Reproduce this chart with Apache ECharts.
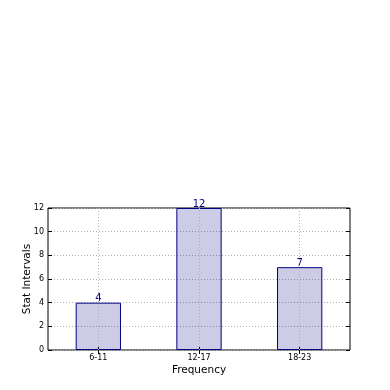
<!DOCTYPE html>
<html><head><meta charset="utf-8">
<script src="https://cdn.jsdelivr.net/npm/echarts@6/dist/echarts.min.js"></script>
<style>html,body{margin:0;padding:0;background:#fff}#c{width:390px;height:390px}</style>
</head><body><div id="c"></div>
<script>
var categories = ['6-11', '12-17', '18-23'];
var values = [4, 12, 7];
var yTicks = [0, 2, 4, 6, 8, 10, 12];
var xTitle = 'Frequency';
var yTitle = 'Stat Intervals';

var font = 'DejaVu Sans';
var dotted = {color: '#b0b0b0', type: [1, 2], width: 1};
var chart = echarts.init(document.getElementById('c'));
chart.setOption({
  animation: false,
  grid: {left: 48, right: 40, top: 208, bottom: 40, show: true, borderColor: '#000', borderWidth: 1, backgroundColor: 'transparent'},
  xAxis: [{
    type: 'category', data: categories, position: 'bottom',
    axisLine: {show: false},
    axisTick: {show: true, inside: true, length: 4, alignWithLabel: true, lineStyle: {color: '#000'}},
    axisLabel: {fontFamily: font, fontSize: 8, color: '#000', margin: 4},
    splitLine: {show: false},
    name: xTitle, nameLocation: 'middle', nameGap: 15, nameMoveOverlap: false,
    nameTextStyle: {fontFamily: font, fontSize: 10.5, color: '#000'}
  }, {
    type: 'category', data: categories, position: 'top',
    axisLine: {show: false},
    axisTick: {show: true, inside: true, length: 4, alignWithLabel: true, lineStyle: {color: '#000'}},
    axisLabel: {show: false}, splitLine: {show: false}
  }],
  yAxis: [{
    type: 'value', min: yTicks[0], max: yTicks[yTicks.length - 1], interval: 2, position: 'left',
    axisLine: {show: false},
    axisTick: {show: true, inside: true, length: 4, lineStyle: {color: '#000'}},
    axisLabel: {fontFamily: font, fontSize: 8, color: '#000', margin: 4},
    splitLine: {show: true, lineStyle: dotted},
    name: yTitle, nameLocation: 'middle', nameGap: 15, nameMoveOverlap: false,
    nameTextStyle: {fontFamily: font, fontSize: 10.5, color: '#000'}
  }, {
    type: 'value', min: yTicks[0], max: yTicks[yTicks.length - 1], interval: 2, position: 'right',
    axisLine: {show: false},
    axisTick: {show: true, inside: true, length: 4, lineStyle: {color: '#000'}},
    axisLabel: {show: false}, splitLine: {show: false}
  }],
  series: [{
    type: 'bar', data: values, barWidth: '45%',
    itemStyle: {color: 'rgba(0,0,128,0.2)', borderColor: '#000080', borderWidth: 1},
    label: {show: true, position: 'top', distance: -1, color: '#000080', fontFamily: font, fontSize: 10},
    markLine: {
      silent: true, symbol: 'none', label: {show: false},
      lineStyle: dotted,
      data: categories.map(function (c) { return {xAxis: c}; })
    }
  }]
});
</script></body></html>
